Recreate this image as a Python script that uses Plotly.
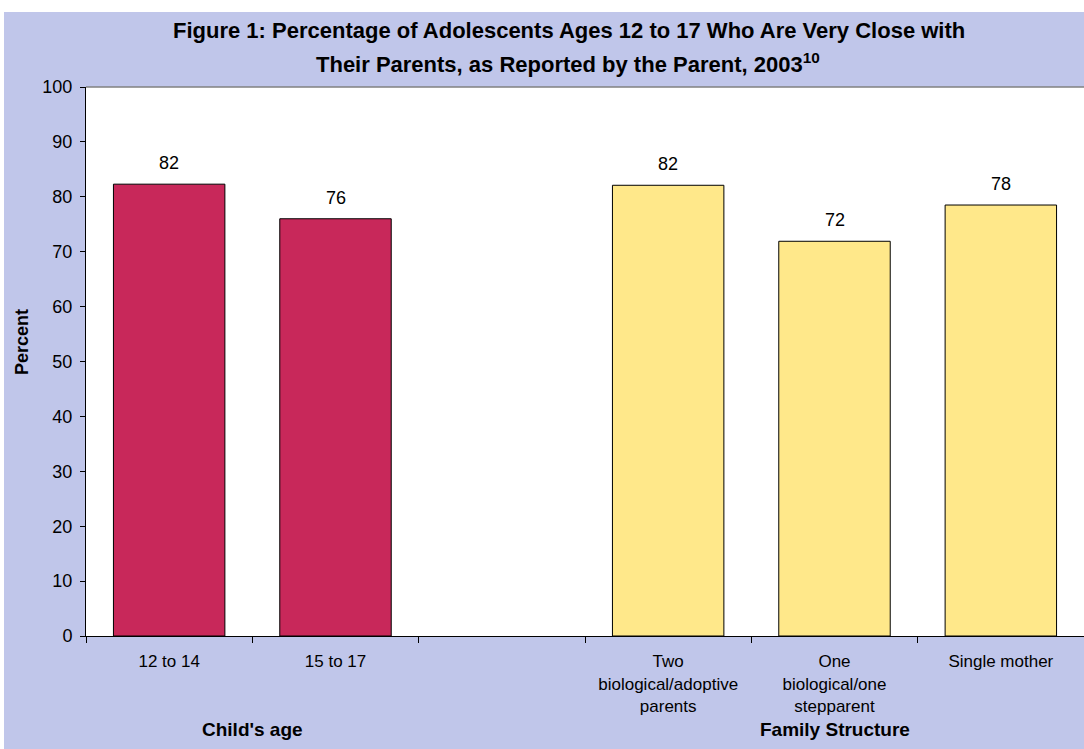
import plotly.graph_objects as go

categories = ["12 to 14", "15 to 17", " ",
              "Two<br>biological/adoptive<br>parents",
              "One<br>biological/one<br>stepparent",
              "Single mother"]
age_cats = ["12 to 14", "15 to 17"]
age_values = [82.3, 76.0]
age_labels = ["82", "76"]
fam_cats = ["Two<br>biological/adoptive<br>parents",
            "One<br>biological/one<br>stepparent",
            "Single mother"]
fam_values = [82.1, 71.9, 78.5]
fam_labels = ["82", "72", "78"]
y_ticks = list(range(0, 101, 10))

FONT = "Liberation Sans, Arial, sans-serif"
LAV = "#C0C6EA"

fig = go.Figure()
fig.add_trace(go.Bar(x=age_cats, y=age_values, marker=dict(color="#C8285A", line=dict(color="black", width=1)),
                     hoverinfo="skip", showlegend=False))
fig.add_trace(go.Bar(x=fam_cats, y=fam_values, marker=dict(color="#FFE88A", line=dict(color="black", width=1)),
                     hoverinfo="skip", showlegend=False))

for c, v, t in list(zip(age_cats, age_values, age_labels)) + list(zip(fam_cats, fam_values, fam_labels)):
    fig.add_annotation(x=c, y=v, text=t, showarrow=False, yanchor="bottom", yshift=9,
                       font=dict(family=FONT, size=18, color="black"))

W, H = 1084, 749
L, R, T, B = 86, 0, 87, 113
pw, ph = W - L - R, H - T - B

def px(x):
    return (x - L) / pw

def py(y):
    return (H - B - y) / ph

# white borders (top and left)
fig.add_shape(type="rect", xref="paper", yref="paper", x0=px(0), x1=px(W), y0=py(12), y1=py(0),
              fillcolor="white", line=dict(width=0), layer="below")
fig.add_shape(type="rect", xref="paper", yref="paper", x0=px(0), x1=px(4), y0=py(H), y1=py(0),
              fillcolor="white", line=dict(width=0), layer="below")
# top border of plot area
fig.add_shape(type="line", xref="paper", yref="paper", x0=0, x1=1, y0=1, y1=1,
              line=dict(color="#808080", width=1.5))

fig.add_annotation(xref="paper", yref="paper", x=px(569), y=py(30),
                   text="<b>Figure 1: Percentage of Adolescents Ages 12 to 17 Who Are Very Close with</b>",
                   showarrow=False, font=dict(family=FONT, size=22, color="black"), yanchor="middle")
fig.add_annotation(xref="paper", yref="paper", x=px(568), y=py(63),
                   text="<b>Their Parents, as Reported by the Parent, 2003<sup>10</sup></b>",
                   showarrow=False, font=dict(family=FONT, size=22, color="black"), yanchor="middle")

fig.add_annotation(xref="paper", yref="paper", x=px(22), y=py(342), text="<b>Percent</b>", textangle=-90,
                   showarrow=False, font=dict(family=FONT, size=18, color="black"),
                   xanchor="center", yanchor="middle")

fig.add_annotation(xref="x", yref="paper", x=0.5, y=py(730), text="<b>Child's age</b>", showarrow=False,
                   font=dict(family=FONT, size=19, color="black"), yanchor="middle")
fig.add_annotation(xref="x", yref="paper", x=4, y=py(730), text="<b>Family Structure</b>", showarrow=False,
                   font=dict(family=FONT, size=19, color="black"), yanchor="middle")

fig.update_layout(
    width=W, height=H,
    margin=dict(l=L, r=R, t=T, b=B, pad=0),
    paper_bgcolor=LAV, plot_bgcolor="white",
    barmode="overlay", bargap=0.33,
    font=dict(family=FONT, color="black"),
    xaxis=dict(type="category", categoryorder="array", categoryarray=categories,
               range=[-0.5, 5.5], tickson="boundaries", ticks="outside", ticklen=6, tickcolor="black",
               showline=True, linecolor="black", linewidth=1, showgrid=False,
               ticklabelstandoff=10,
               tickfont=dict(family=FONT, size=17, color="black"), fixedrange=True),
    yaxis=dict(range=[0, 100], tickvals=y_ticks, ticks="outside", ticklen=5, tickcolor="black",
               showline=True, linecolor="black", linewidth=1, showgrid=False, zeroline=False,
               ticklabelstandoff=4,
               tickfont=dict(family=FONT, size=18, color="black"),
               fixedrange=True),
)

fig.write_html("out.html", config={"displayModeBar": False},
               post_script="document.body.style.margin='0';")
